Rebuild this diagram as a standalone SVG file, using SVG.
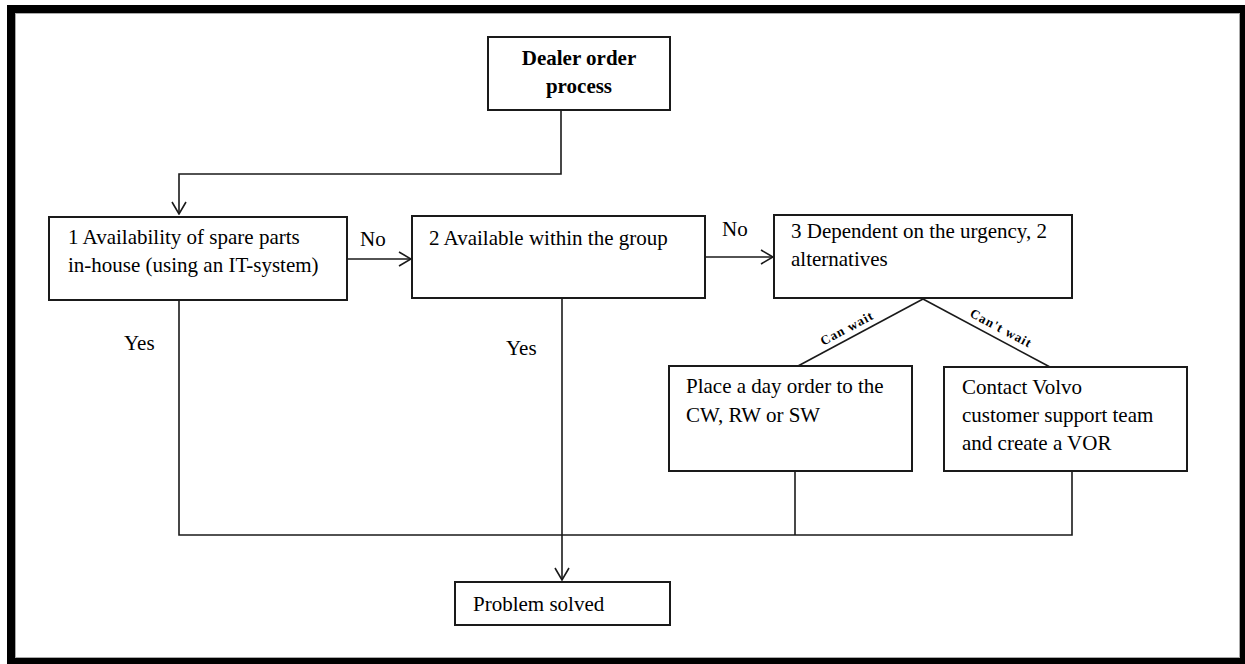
<svg xmlns="http://www.w3.org/2000/svg" width="1245" height="664" viewBox="0 0 1245 664">
<style>
.box{fill:#fff;stroke:#1a1a1a;stroke-width:2}
.ln{fill:none;stroke:#1a1a1a;stroke-width:1.6}
.t{font-family:"Liberation Serif","Times New Roman",serif;font-size:21px;fill:#000}
.b{font-weight:bold}
.s{font-family:"Liberation Serif","Times New Roman",serif;font-size:13px;font-weight:bold;fill:#000;letter-spacing:1px}
</style>
<defs>
<marker id="ah" markerWidth="14" markerHeight="16" refX="13" refY="8" orient="auto" markerUnits="userSpaceOnUse">
<path d="M1,1 L13,8 L1,15" fill="none" stroke="#1a1a1a" stroke-width="1.6"/>
</marker>
</defs>
<rect x="0" y="0" width="1245" height="664" fill="#fff"/>
<path d="M7,5 H1245 V664 H7 Z M15,13 V658 H1240 V13 Z" fill="#000" fill-rule="evenodd"/>
<rect x="15.5" y="13.5" width="1224" height="644" fill="none" stroke="#aaa" stroke-width="1"/>

<g id="connectors">
<path class="ln" d="M561,110 V174 H179 V214" marker-end="url(#ah)"/>
<path class="ln" d="M347,259 H411" marker-end="url(#ah)"/>
<text class="t" x="360" y="246">No</text>
<path class="ln" d="M705,257 H773" marker-end="url(#ah)"/>
<text class="t" x="722" y="236">No</text>
<path class="ln" d="M179,300 V535 H1072 V471"/>
<path class="ln" d="M795,471 V535"/>
<text class="t" x="124" y="350">Yes</text>
<path class="ln" d="M562,298 V580" marker-end="url(#ah)"/>
<text class="t" x="506" y="355">Yes</text>
<path class="ln" d="M923,299 L798,366"/>
<path class="ln" d="M923,299 L1050,367"/>
<text class="s" transform="translate(849,332) rotate(-28)" text-anchor="middle">Can wait</text>
<text class="s" transform="translate(999,332) rotate(28)" text-anchor="middle">Can't wait</text>
</g>

<g id="dealer">
<rect class="box" x="488" y="37" width="182" height="73"/>
<text class="t b" x="579" y="65" text-anchor="middle">Dealer order</text>
<text class="t b" x="579" y="93" text-anchor="middle">process</text>
</g>

<g id="node1">
<rect class="box" x="49" y="217" width="298" height="83"/>
<text class="t" x="68" y="244">1 Availability of spare parts</text>
<text class="t" x="68" y="272">in-house (using an IT-system)</text>
</g>

<g id="node2">
<rect class="box" x="412" y="216" width="293" height="82"/>
<text class="t" x="429" y="245">2 Available within the group</text>
</g>

<g id="node3">
<rect class="box" x="774" y="215" width="298" height="83"/>
<text class="t" x="791" y="238">3 Dependent on the urgency, 2</text>
<text class="t" x="791" y="266">alternatives</text>
</g>

<g id="dayorder">
<rect class="box" x="669" y="366" width="243" height="105"/>
<text class="t" x="686" y="393">Place a day order to the</text>
<text class="t" x="686" y="422">CW, RW or SW</text>
</g>

<g id="contact">
<rect class="box" x="944" y="367" width="243" height="104"/>
<text class="t" x="962" y="394">Contact Volvo</text>
<text class="t" x="962" y="422">customer support team</text>
<text class="t" x="962" y="450">and create a VOR</text>
</g>

<g id="solved">
<rect class="box" x="455" y="582" width="215" height="43"/>
<text class="t" x="473" y="611">Problem solved</text>
</g>
</svg>
